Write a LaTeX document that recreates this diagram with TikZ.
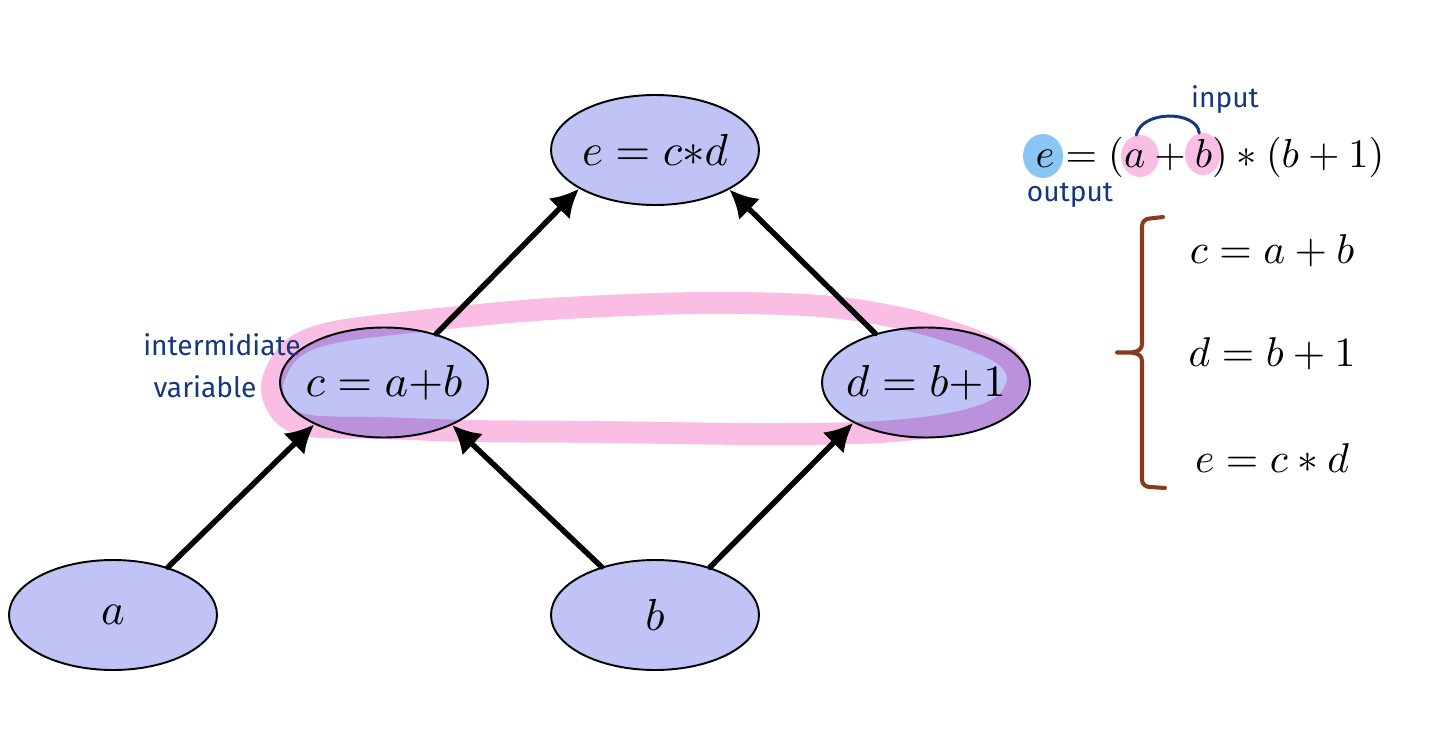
\documentclass[tikz,border=0pt]{standalone}
\usepackage{fontspec}
\newfontfamily\handfont{Fira Sans}
\usetikzlibrary{positioning,shapes,arrows.meta}
\definecolor{nodeblue}{RGB}{191,195,245}
\definecolor{markpink}{RGB}{250,190,228}
\definecolor{markblue}{RGB}{138,198,245}
\definecolor{inkblue}{RGB}{20,55,125}
\definecolor{bracebrown}{RGB}{139,58,30}
\newcommand{\nodemath}[1]{\makebox[2.5cm]{\scalebox{2.55}{$#1$}}}
\newcommand{\eqmath}[1]{\scalebox{2.37}{$#1$}}
\tikzstyle{varnode} = [ellipse, draw=black, line width=1.1pt, fill=nodeblue, minimum width=4.16cm, minimum height=2.2cm, inner sep=0pt]
\tikzstyle{connect} = [line width=3.1pt, line cap=round, -{Latex[length=16pt,width=17pt]}]
\tikzstyle{eqtext} = [inner sep=0pt]
\tikzstyle{spot} = [ellipse, inner sep=0pt]
\tikzstyle{note} = [inner sep=0pt, text=inkblue, font=\handfont\fontsize{16}{19}\selectfont]
\tikzstyle{handline} = [draw=inkblue, line width=1.7pt, line cap=round]

\begin{document}
\begin{tikzpicture}[node distance=4.65cm and 5.42cm, on grid]
			\useasboundingbox (0,0) rectangle (28.8,-15.04);
			\node (e) [varnode] at (13.1,-3.0) {\nodemath{e=c{*}d}};
			\node (c) [varnode,below left=of e] {\nodemath{c=a{+}b}};
			\node (d) [varnode,below right=of e] {\nodemath{d=b{+}1}};
			\node (a) [varnode,below left=of c] {\nodemath{a}};
			\node (b) [varnode,below right=of c] {\nodemath{b}};
			%-----------------------------------------------
			\begin{scope}[blend mode=multiply]
			\draw [draw=markpink, line width=12.5pt] plot [smooth cycle, tension=0.55] coordinates {
				(5.44,-7.70) (5.80,-7.02) (6.60,-6.66) (8.40,-6.42) (11.00,-6.18)
				(14.00,-6.06) (16.40,-6.12) (18.00,-6.36) (19.20,-6.70) (20.08,-7.10)
				(20.36,-7.56) (20.08,-8.10) (19.20,-8.44) (17.60,-8.64) (15.20,-8.68)
				(12.00,-8.64) (9.40,-8.62) (7.60,-8.56) (6.20,-8.52) (5.64,-8.26)};
			\end{scope}
			%-----------------------------------------------
			\draw [connect] (a.41) -- (c.211);
			\draw [connect] (b.138) -- (c.328);
			\draw [connect] (b.41) -- (d.209);
			\draw [connect] (c.43) -- (e.207);
			\draw [connect] (d.136) -- (e.332);
			%-----------------------------------------------
			\node (hle) [spot,fill=markblue,minimum width=0.8cm,minimum height=0.88cm] at (20.86,-3.12) {};
			\node (hla) [spot,fill=markpink,minimum width=0.76cm,minimum height=0.84cm] at (22.8,-3.12) {};
			\node (hlb) [spot,fill=markpink,minimum width=0.72cm,minimum height=0.84cm] at (24.06,-3.08) {};
			\node (eqmain) [eqtext] at (24.2,-3.14) {\scalebox{2.3}{$e=(a+b)*(b+1)$}};
			%-----------------------------------------------
			\node (eqc) [eqtext] at (25.44,-5.02) {\eqmath{c=a+b}};
			\node (eqd) [eqtext,below=2.06cm of eqc] {\eqmath{d=b+1}};
			\node (eqe) [eqtext,below=2.08cm of eqd] {\eqmath{e=c*d}};
			\draw [draw=bracebrown, line width=2.3pt, line cap=round, line join=round]
				(23.26,-4.34) -- (23.0,-4.37) to[out=180,in=90] (22.84,-4.52) -- (22.84,-6.88)
				to[out=-90,in=0] (22.34,-7.05) to[out=0,in=90] (22.84,-7.22) -- (22.84,-9.6)
				to[out=-90,in=180] (23.0,-9.74) -- (23.3,-9.76);
			%-----------------------------------------------
			\node (inter) [note] at (4.44,-6.9) {intermidiate};
			\node (var) [note] at (4.10,-7.74) {variable};
			\node (input) [note] at (24.5,-2.0) {input};
			\node (output) [note] at (21.4,-3.9) {output};
			\draw [handline] (hla.100) .. controls +(0.1,0.5) and +(-0.05,0.46) .. (hlb.100);
\end{tikzpicture}
\end{document}
